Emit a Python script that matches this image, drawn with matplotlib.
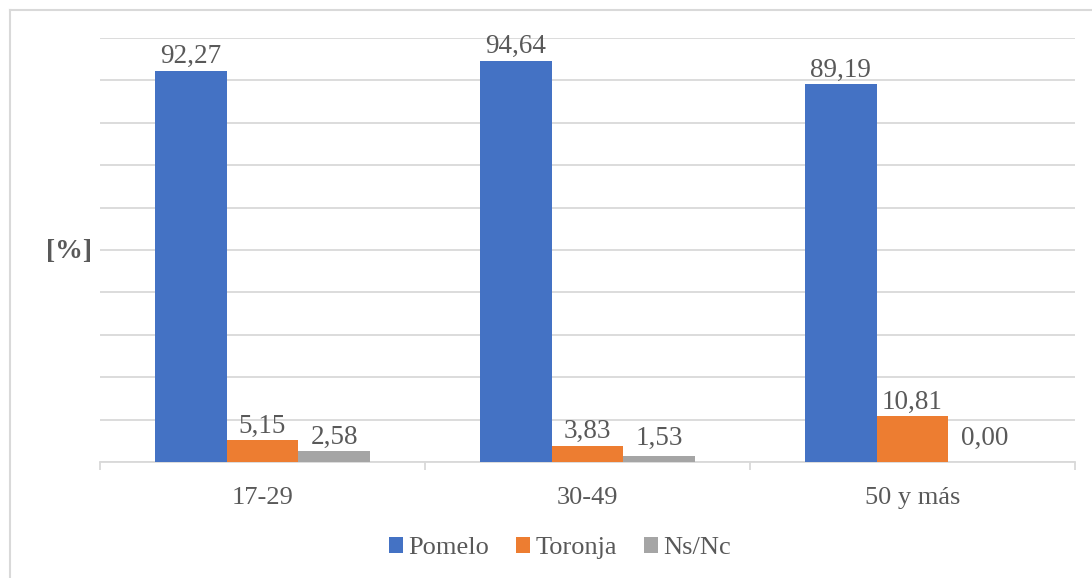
import matplotlib.pyplot as plt
import numpy as np

plt.rcParams['font.family'] = ['Liberation Serif', 'DejaVu Serif']

categories = ['17-29', '30-49', '50 y más']
series_names = ['Pomelo', 'Toronja', 'Ns/Nc']
pomelo = [92.27, 94.64, 89.19]
toronja = [5.15, 3.83, 10.81]
nsnc = [2.58, 1.53, 0.00]
colors = ['#4472C4', '#ED7D31', '#A5A5A5']
text_col = '#595959'
grid_col = '#D9D9D9'

W, H = 1092, 578
fig = plt.figure(figsize=(W / 100, H / 100), dpi=100)

# light frame of the chart area (top and left edges visible)
fig.add_artist(plt.Line2D([10 / W, 10 / W], [0, 1 - 10 / H], color=grid_col, lw=1.5))
fig.add_artist(plt.Line2D([10 / W, 1], [1 - 10 / H, 1 - 10 / H], color=grid_col, lw=1.5))

ax = fig.add_axes([100 / W, (H - 462) / H, 975 / W, (462 - 38) / H])

x = np.arange(len(categories))
bw = 0.2215
data = [pomelo, toronja, nsnc]
label_floor = 2.2  # labels of tiny bars sit at a minimum height
for i, vals in enumerate(data):
    xs = x + (i - 1) * bw
    ax.bar(xs, vals, bw, color=colors[i], label=series_names[i], zorder=3)
    for xi, v in zip(xs, vals):
        ax.annotate(f'{v:.2f}'.replace('.', ','), (xi, max(v, label_floor)),
                    xytext=(0, 1), textcoords='offset points', ha='center', va='bottom',
                    fontsize=19.5, color=text_col)

ax.set_xlim(-0.5, 2.5)
ax.set_ylim(0, 100)
ax.set_yticks(np.arange(0, 101, 10))
ax.yaxis.grid(True, color=grid_col, lw=1.3, zorder=0)
ax.tick_params(axis='y', left=False, labelleft=False)
ax.set_xticks(x)
ax.set_xticklabels(categories, fontsize=19, color=text_col)
ax.tick_params(axis='x', which='major', length=0, pad=18)
ax.set_xticks([-0.5, 0.5, 1.5, 2.5], minor=True)
ax.tick_params(axis='x', which='minor', length=6, color=grid_col, width=1.3)
for s in ['top', 'right', 'left']:
    ax.spines[s].set_visible(False)
ax.spines['bottom'].set_color(grid_col)
ax.spines['bottom'].set_linewidth(1.3)

fig.text(69 / W, 1 - 252 / H, '[%]', fontsize=20, fontweight='bold', color=text_col,
         ha='center', va='center')

fig.legend(loc='center', bbox_to_anchor=(560 / W, 1 - 548 / H), ncol=3, frameon=False,
           fontsize=19, labelcolor=text_col, handlelength=0.55, handleheight=0.55,
           handletextpad=0.2, columnspacing=1.0)

fig.savefig('out.png', dpi=100)
